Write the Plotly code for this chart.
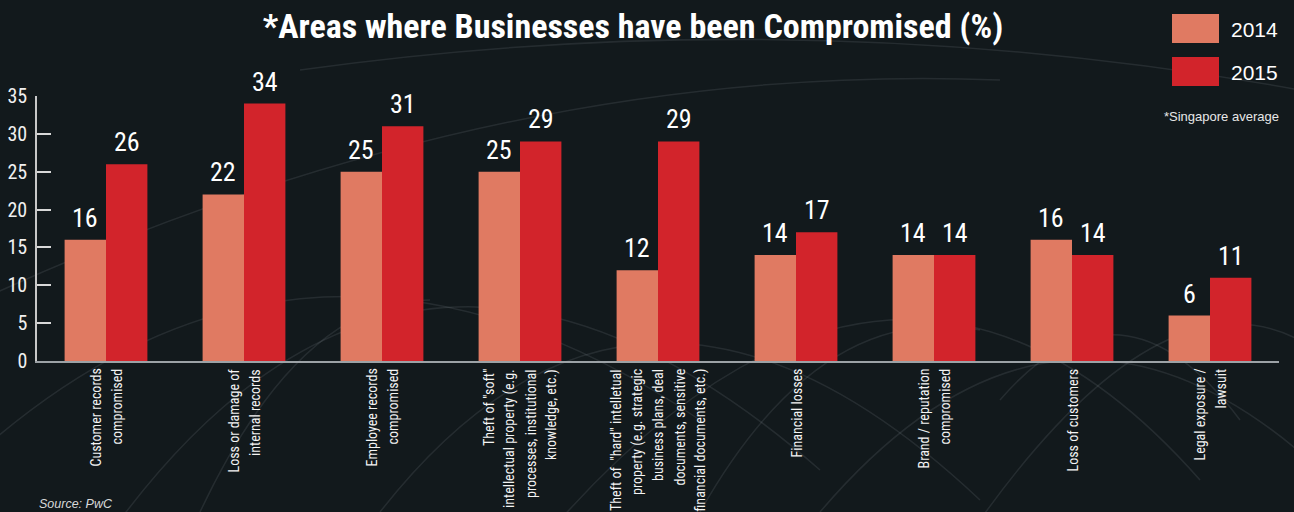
import plotly.graph_objects as go

# Areas where businesses have been compromised, Singapore average (%)
categories = [
    "Customer records compromised",
    "Loss or damage of internal records",
    "Employee records compromised",
    "Theft of \"soft\" intellectual property",
    "Theft of \"hard\" intellectual property",
    "Financial losses",
    "Brand / reputation compromised",
    "Loss of customers",
    "Legal exposure / lawsuit",
]
# wrapped category labels as printed under the axis
category_lines = [
    ["Customer records", "compromised"],
    ["Loss or damage of", "internal records"],
    ["Employee records", "compromised"],
    ["Theft of \"soft\"", "intellectual property (e.g.", "processes, institutional",
     "knowledge, etc.)"],
    ["Theft of  \"hard\" intelletual", "property (e.g. strategic",
     "business plans, deal", "documents, sensitive", "financial documents, etc.)"],
    ["Financial losses"],
    ["Brand / reputation", "compromised"],
    ["Loss of customers"],
    ["Legal exposure /", "lawsuit"],
]
values_2014 = [16, 22, 25, 25, 12, 14, 14, 16, 6]
values_2015 = [26, 34, 31, 29, 29, 17, 14, 14, 11]
y_ticks = [0, 5, 10, 15, 20, 25, 30, 35]

COLOR_2014 = "#E07A62"
COLOR_2015 = "#D2242B"
NARROW = "Roboto Condensed, Liberation Sans, sans-serif"
WIDE = "Liberation Sans, Arial, sans-serif"

W, H = 1294, 512
L, R, T, B = 37, 15, 96, 151
PW, PH = W - L - R, H - T - B


def px(x):
    return (x - L) / PW


def py(y):
    return (H - B - y) / PH


fig = go.Figure()

# faint network arcs in the backdrop
arcs = [
    (-40, 470, 300, 150, 700, 420),
    (120, 520, 420, 120, 820, 470),
    (380, 512, 640, 180, 980, 500),
    (560, 520, 900, 140, 1200, 480),
    (820, 512, 1060, 230, 1320, 470),
    (980, 520, 1180, 240, 1330, 360),
    (-20, 300, 500, 60, 1000, 80),
    (300, 70, 800, 0, 1300, 90),
    (700, 512, 820, 300, 980, 330),
    (1000, 400, 1120, 260, 1240, 420),
    (200, 512, 300, 300, 430, 300),
]
for x0, y0, cx, cy, x1, y1 in arcs:
    fig.add_shape(type="path", xref="paper", yref="paper", layer="below",
                  path=f"M {px(x0)} {py(y0)} Q {px(cx)} {py(cy)} {px(x1)} {py(y1)}",
                  line=dict(color="rgba(170,180,185,0.13)", width=1.5))

fig.add_trace(go.Bar(name="2014", x=categories, y=values_2014,
                     marker=dict(color=COLOR_2014, line=dict(width=0)),
                     cliponaxis=False))
fig.add_trace(go.Bar(name="2015", x=categories, y=values_2015,
                     marker=dict(color=COLOR_2015, line=dict(width=0)),
                     cliponaxis=False))

# value labels above each bar
bar_px = PW / len(categories) * 0.6 / 2
for vals, shift in ((values_2014, -bar_px / 2), (values_2015, bar_px / 2)):
    for cat, v in zip(categories, vals):
        fig.add_annotation(x=cat, y=v, text=str(v), showarrow=False,
                           xshift=shift, yanchor="bottom", yshift=5,
                           font=dict(family=NARROW, size=26, color="white"))

# rotated category labels, one annotation per wrapped line
LINE_GAP = 21
for cat, lines in zip(categories, category_lines):
    n = len(lines)
    for i, line in enumerate(lines):
        fig.add_annotation(x=cat, y=0, text=line, showarrow=False,
                           textangle=-90, xanchor="center", yanchor="top",
                           xshift=(i - (n - 1) / 2) * LINE_GAP, yshift=-6,
                           font=dict(family=NARROW, size=14, color="#f4f4f4"))

# legend swatches and labels
for i, (label, col) in enumerate((("2014", COLOR_2014), ("2015", COLOR_2015))):
    top = 14 + i * 43
    fig.add_shape(type="rect", xref="paper", yref="paper",
                  x0=px(1172), x1=px(1219), y0=py(top + 29), y1=py(top),
                  fillcolor=col, line=dict(width=0), layer="above")
    fig.add_annotation(xref="paper", yref="paper", x=px(1229),
                       y=py(top + 15), text=label, showarrow=False,
                       xanchor="left", yanchor="middle",
                       font=dict(family=WIDE, size=21, color="white"))

fig.add_annotation(xref="paper", yref="paper", x=px(1281), y=py(116),
                   text="*Singapore average", showarrow=False,
                   xanchor="right", yanchor="middle",
                   font=dict(family=WIDE, size=13, color="#e8e8e8"))

fig.add_annotation(xref="paper", yref="paper", x=px(38), y=py(512),
                   text="<i>Source: PwC</i>", showarrow=False,
                   xanchor="left", yanchor="bottom", borderpad=0,
                   font=dict(family=WIDE, size=12.5, color="#d8d8d8"))

fig.update_layout(
    width=W, height=H,
    margin=dict(l=L, r=R, t=T, b=B, autoexpand=False),
    paper_bgcolor="#12191c", plot_bgcolor="rgba(0,0,0,0)",
    barmode="group", bargap=0.4, bargroupgap=0,
    showlegend=False,
    title=dict(text="<b>*Areas where Businesses have been Compromised (%)</b>",
               x=633 / W, xanchor="center", y=1 - 26 / H, yanchor="middle",
               font=dict(family=NARROW, size=34, color="white")),
    font=dict(family=NARROW, color="white"),
)
fig.update_xaxes(showline=True, linecolor="#9ca2a6", linewidth=2,
                 ticks="", showticklabels=False, automargin=False,
                 showgrid=False, zeroline=False)
fig.update_yaxes(range=[0, 35], tickvals=y_ticks, showline=True, automargin=False,
                 linecolor="#c8c8c8", linewidth=1.5, ticks="inside",
                 ticklen=14, tickcolor="#d8d8d8", tickwidth=1.5,
                 tickfont=dict(family=NARROW, size=20, color="#f0f0f0"),
                 ticklabelstandoff=4,
                 showgrid=False, zeroline=False)

fig.write_html("out.html")
